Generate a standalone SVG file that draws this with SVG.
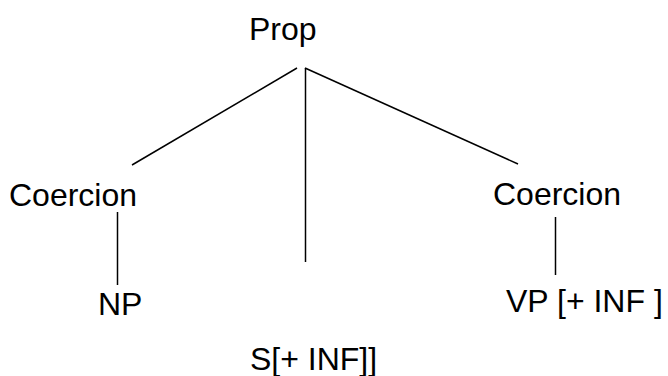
<svg xmlns="http://www.w3.org/2000/svg" width="668" height="376" viewBox="0 0 668 376">
<style>
text{font-family:"Liberation Sans",Arial,sans-serif;font-size:32px;fill:#000}
.c line{stroke:#000;stroke-width:1.5}
</style>
<rect width="668" height="376" fill="#fff"/>
<g class="c" id="connectors">
<line x1="297" y1="68" x2="132" y2="165"/>
<line x1="305.5" y1="68" x2="305.5" y2="262"/>
<line x1="305" y1="68" x2="518" y2="164"/>
<line x1="117.5" y1="212" x2="117.5" y2="285"/>
<line x1="555.5" y1="217" x2="555.5" y2="275"/>
</g>
<g id="prop"><text x="249" y="40">Prop</text></g>
<g id="coercion1"><text x="9" y="206">Coercion</text></g>
<g id="np"><text x="98" y="315">NP</text></g>
<g id="s"><text x="250" y="370">S[+ INF]]</text></g>
<g id="coercion2"><text x="493" y="205">Coercion</text></g>
<g id="vp"><text x="506" y="312">VP [+ INF ]</text></g>
</svg>
